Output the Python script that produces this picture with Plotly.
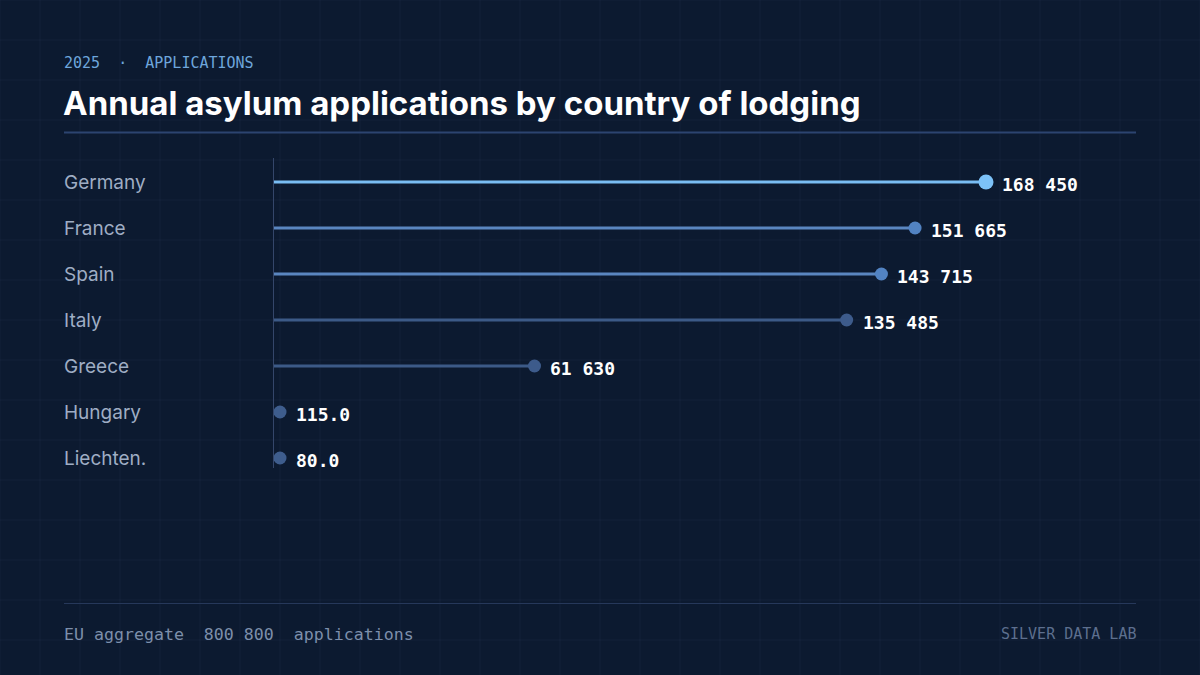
import plotly.graph_objects as go

# ---- data ----
countries = ["Germany", "France", "Spain", "Italy", "Greece", "Hungary", "Liechten."]
applications = [168450, 151665, 143715, 135485, 61630, 115, 80]
eu_total = 800800
stem_colors = ["#79bdf3", "#5a86c0", "#5a86c0", "#3c5a87", "#3c5a87", "#3c5a87", "#3c5a87"]
dot_colors = ["#7cc2f8", "#5283c2", "#5283c2", "#3d5b8b", "#3d5b8b", "#3e5d8d", "#3e5d8d"]
dot_sizes = [15, 13, 13, 13, 13, 13, 13]

W, H = 1200, 675
BG = "#0c1a30"
PX0, PX1 = 274, 1136          # plot area x (px)
PY0, PY1 = 158, 468           # plot area y (px)
XMAX = 203940
ROW0 = -0.5217
ROWS = (PY1 - PY0) / 46.0


def fmt(v):
    if v < 1000:
        return f"{v:.1f}"
    return f"{v:,}".replace(",", " ")


def px_x(p):
    return p / W


def px_y(p):
    return 1 - p / H


fig = go.Figure()

# minimum visible stub for tiny values (6 px)
min_vis = 6 * XMAX / (PX1 - PX0)
for i, (c, v) in enumerate(zip(countries, applications)):
    xd = max(v, min_vis)
    fig.add_trace(go.Scatter(
        x=[0, xd], y=[i, i], mode="lines",
        line=dict(color=stem_colors[i], width=3),
        hoverinfo="skip", showlegend=False,
    ))
    fig.add_trace(go.Scatter(
        x=[xd], y=[i], mode="markers",
        marker=dict(color=dot_colors[i], size=dot_sizes[i], line=dict(width=0)),
        hovertemplate=f"{c}: {fmt(v)}<extra></extra>", showlegend=False,
    ))
    fig.add_annotation(
        x=xd, y=i, xref="x", yref="y", text=f"<b>{fmt(v)}</b>",
        showarrow=False, xanchor="left", yanchor="middle", xshift=14, yshift=-2,
        font=dict(family="DejaVu Sans Mono", size=18, color="#ffffff"),
    )
    fig.add_annotation(
        x=px_x(62), y=i, xref="paper", yref="y", text=c,
        showarrow=False, xanchor="left", yanchor="middle",
        font=dict(family="Inter", size=19, color="#9fadc4"),
    )

shapes = []
# background grid
for gx in range(0, W + 1, 40):
    shapes.append(dict(type="line", xref="paper", yref="paper",
                       x0=px_x(gx), x1=px_x(gx), y0=0, y1=1,
                       line=dict(color="rgba(130,160,210,0.06)", width=1), layer="below"))
for gy in range(0, H + 1, 40):
    shapes.append(dict(type="line", xref="paper", yref="paper",
                       x0=0, x1=1, y0=px_y(gy), y1=px_y(gy),
                       line=dict(color="rgba(130,160,210,0.06)", width=1), layer="below"))
# rules
shapes.append(dict(type="line", xref="paper", yref="paper",
                   x0=px_x(64), x1=px_x(1136), y0=px_y(132.5), y1=px_y(132.5),
                   line=dict(color="#2c4470", width=2)))
shapes.append(dict(type="line", xref="paper", yref="paper",
                   x0=px_x(64), x1=px_x(1136), y0=px_y(603.5), y1=px_y(603.5),
                   line=dict(color="#26385a", width=1)))

# header / footer text
fig.add_annotation(x=px_x(62), y=px_y(63), xref="paper", yref="paper",
                   text="2025  ·  APPLICATIONS", showarrow=False,
                   xanchor="left", yanchor="middle",
                   font=dict(family="DejaVu Sans Mono", size=15, color="#6ea6dc"))
fig.add_annotation(x=px_x(61), y=px_y(103), xref="paper", yref="paper",
                   text="<b>Annual asylum applications by country of lodging</b>",
                   showarrow=False, xanchor="left", yanchor="middle",
                   font=dict(family="Inter", size=33, color="#ffffff"))
fig.add_annotation(x=px_x(62), y=px_y(634), xref="paper", yref="paper",
                   text=f"EU aggregate  {fmt(eu_total)}  applications", showarrow=False,
                   xanchor="left", yanchor="middle",
                   font=dict(family="DejaVu Sans Mono", size=16.6, color="#7d8fab"))
fig.add_annotation(x=px_x(1138), y=px_y(634), xref="paper", yref="paper",
                   text="SILVER DATA LAB", showarrow=False,
                   xanchor="right", yanchor="middle",
                   font=dict(family="DejaVu Sans Mono", size=15, color="#5d6f8e"))

fig.update_layout(
    width=W, height=H,
    margin=dict(l=0, r=0, t=0, b=0),
    paper_bgcolor=BG, plot_bgcolor="rgba(0,0,0,0)",
    shapes=shapes,
    xaxis=dict(domain=[PX0 / W, PX1 / W], range=[0, XMAX], showgrid=False,
               zeroline=False, showticklabels=False, ticks="", fixedrange=True),
    yaxis=dict(domain=[px_y(PY1), px_y(PY0)], range=[ROW0 + ROWS, ROW0],
               showgrid=False, zeroline=False, showticklabels=False, ticks="",
               showline=True, linecolor="#34466a", linewidth=1, fixedrange=True),
    showlegend=False,
)

fig.write_html("out.html")
